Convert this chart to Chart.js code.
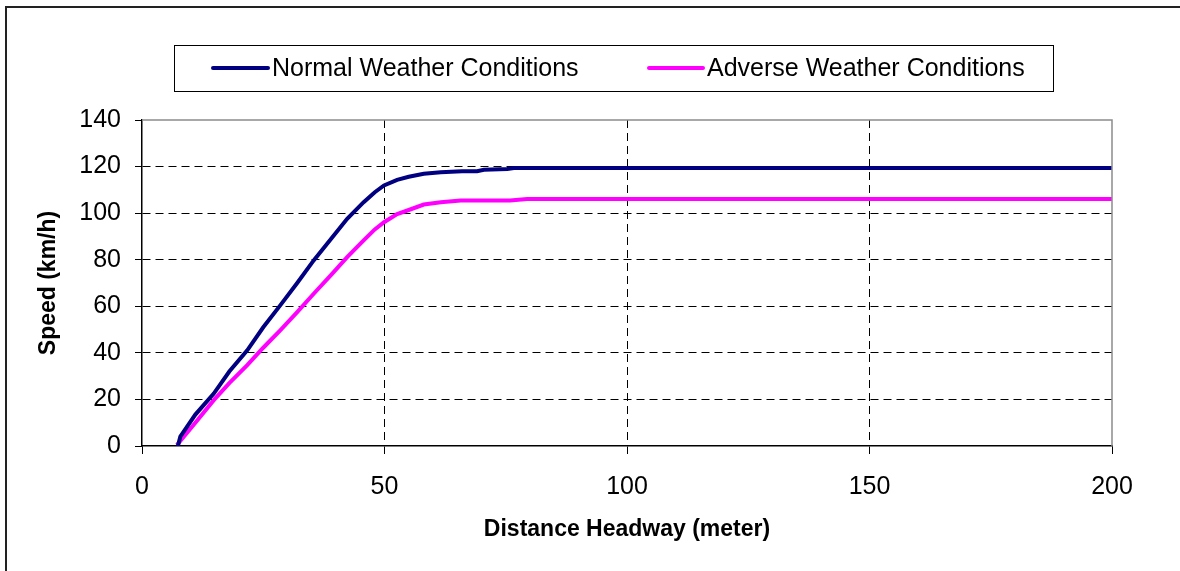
<!DOCTYPE html>
<html lang="en">
<head>
    <meta charset="UTF-8">
    <title>Speed vs Distance Headway</title>
    <script src="https://cdn.jsdelivr.net/npm/chart.js"></script>
    <style>
        html, body { margin: 0; padding: 0; background: #fff; }
        #wrap { width: 1180px; height: 571px; }
    </style>
</head>
<body>
    <div id="wrap"><canvas id="speedChart" width="1180" height="571"></canvas></div>

    <script>
        // Data
        const seriesNames = ['Normal Weather Conditions', 'Adverse Weather Conditions'];
        const seriesColors = ['#000080', '#FF00FF'];

        const normalX = [7.4, 7.9, 11, 14.8, 18, 21.7, 25, 28.5, 32, 35.4, 39, 42.3, 45.7, 48, 49.9, 52.6, 55, 58.1, 61.6, 66, 69.1, 70.5, 75.3, 76.7, 100, 150, 200];
        const normalY = [0, 4, 13.5, 22.5, 32, 41.1, 51, 60.4, 70, 79.7, 89, 97.6, 104.7, 109, 111.9, 114.3, 115.6, 116.9, 117.6, 118, 118, 118.6, 119, 119.4, 119.4, 119.4, 119.4];

        const adverseX = [7.2, 11, 14.8, 18, 21.7, 25, 28.5, 32, 35.4, 39, 42.3, 45.7, 48, 49.9, 52.6, 54, 58.1, 61.6, 65.7, 75.9, 79.4, 100, 150, 200];
        const adverseY = [0.4, 10, 19.7, 27, 34.7, 42.2, 49.7, 57.5, 65.4, 73.5, 81.1, 88.3, 93, 96.1, 99.6, 100.6, 103.7, 104.7, 105.4, 105.4, 106.1, 106.1, 106.1, 106.1];

        const xTicks = [0, 50, 100, 150, 200];
        const yTicks = [0, 20, 40, 60, 80, 100, 120, 140];

        const toPoints = (xs, ys) => xs.map((x, i) => ({ x: x, y: ys[i] }));
        const seriesData = [toPoints(normalX, normalY), toPoints(adverseX, adverseY)];

        // frame, plot border (top/right) and boxed legend
        const decorations = {
            id: 'decorations',
            afterDraw(chart) {
                const ctx = chart.ctx;
                const a = chart.chartArea;
                ctx.save();

                // outer frame, runs past the right and bottom edges
                ctx.strokeStyle = '#222';
                ctx.lineWidth = 2;
                ctx.strokeRect(6, 7, 1400, 1400);

                // gray plot border top + right
                ctx.strokeStyle = '#8c8c8c';
                ctx.lineWidth = 1.5;
                ctx.beginPath();
                ctx.moveTo(a.left, a.top);
                ctx.lineTo(a.right, a.top);
                ctx.lineTo(a.right, a.bottom);
                ctx.stroke();

                // legend box
                ctx.strokeStyle = '#000';
                ctx.lineWidth = 1;
                ctx.strokeRect(174.5, 45.5, 879, 46);

                const items = [
                    { x1: 213, x2: 268, tx: 272 },
                    { x1: 649, x2: 703, tx: 707 }
                ];
                ctx.font = '25px "Liberation Sans", Arial, sans-serif';
                ctx.textBaseline = 'middle';
                ctx.textAlign = 'left';
                chart.data.datasets.forEach((ds, i) => {
                    const it = items[i];
                    ctx.strokeStyle = ds.borderColor;
                    ctx.lineWidth = 4;
                    ctx.lineCap = 'round';
                    ctx.beginPath();
                    ctx.moveTo(it.x1, 68);
                    ctx.lineTo(it.x2, 68);
                    ctx.stroke();
                    ctx.fillStyle = '#000';
                    ctx.fillText(ds.label, it.tx, 69);
                });
                ctx.restore();
            }
        };

        const gridColor = (edgeValues) => (c) => {
            if (c.tick && edgeValues.includes(c.tick.value)) return 'rgba(0,0,0,0)';
            return '#000';
        };

        new Chart(document.getElementById('speedChart'), {
            type: 'line',
            data: {
                datasets: seriesNames.map((name, i) => ({
                    label: name,
                    data: seriesData[i],
                    borderColor: seriesColors[i],
                    backgroundColor: seriesColors[i],
                    borderWidth: 4,
                    pointRadius: 0,
                    tension: 0,
                    fill: false
                }))
            },
            options: {
                responsive: false,
                animation: false,
                layout: { padding: { left: 7, top: 120, right: 68, bottom: 20 } },
                plugins: {
                    legend: { display: false },
                    tooltip: { enabled: false }
                },
                scales: {
                    x: {
                        type: 'linear',
                        min: 0,
                        max: 200,
                        afterBuildTicks: (s) => { s.ticks = xTicks.map(v => ({ value: v })); },
                        afterFit: (s) => { s.height = 105; },
                        grid: {
                            color: gridColor([0, 200]),
                            lineWidth: 1,
                            tickColor: '#000',
                            tickLength: 8
                        },
                        border: { color: '#000', width: 1.5, dash: [8, 5] },
                        ticks: {
                            color: '#000',
                            padding: 18,
                            maxRotation: 0,
                            font: { family: '"Liberation Sans", Arial, sans-serif', size: 25 }
                        },
                        title: {
                            display: true,
                            text: 'Distance Headway (meter)',
                            color: '#000',
                            padding: { top: 0, bottom: 8 },
                            font: { family: '"Liberation Sans", Arial, sans-serif', size: 23, weight: 'bold' }
                        }
                    },
                    y: {
                        min: 0,
                        max: 140,
                        afterBuildTicks: (s) => { s.ticks = yTicks.map(v => ({ value: v })); },
                        afterFit: (s) => { s.width = 135; },
                        grid: {
                            color: gridColor([0, 140]),
                            lineWidth: 1,
                            tickColor: '#000',
                            tickLength: 7
                        },
                        border: { color: '#000', width: 1.5, dash: [8, 5] },
                        ticks: {
                            color: '#000',
                            padding: 14,
                            font: { family: '"Liberation Sans", Arial, sans-serif', size: 25 }
                        },
                        title: {
                            display: true,
                            text: 'Speed (km/h)',
                            color: '#000',
                            padding: { top: 28, bottom: 0 },
                            font: { family: '"Liberation Sans", Arial, sans-serif', size: 23, weight: 'bold' }
                        }
                    }
                }
            },
            plugins: [decorations]
        });
    </script>
</body>
</html>
